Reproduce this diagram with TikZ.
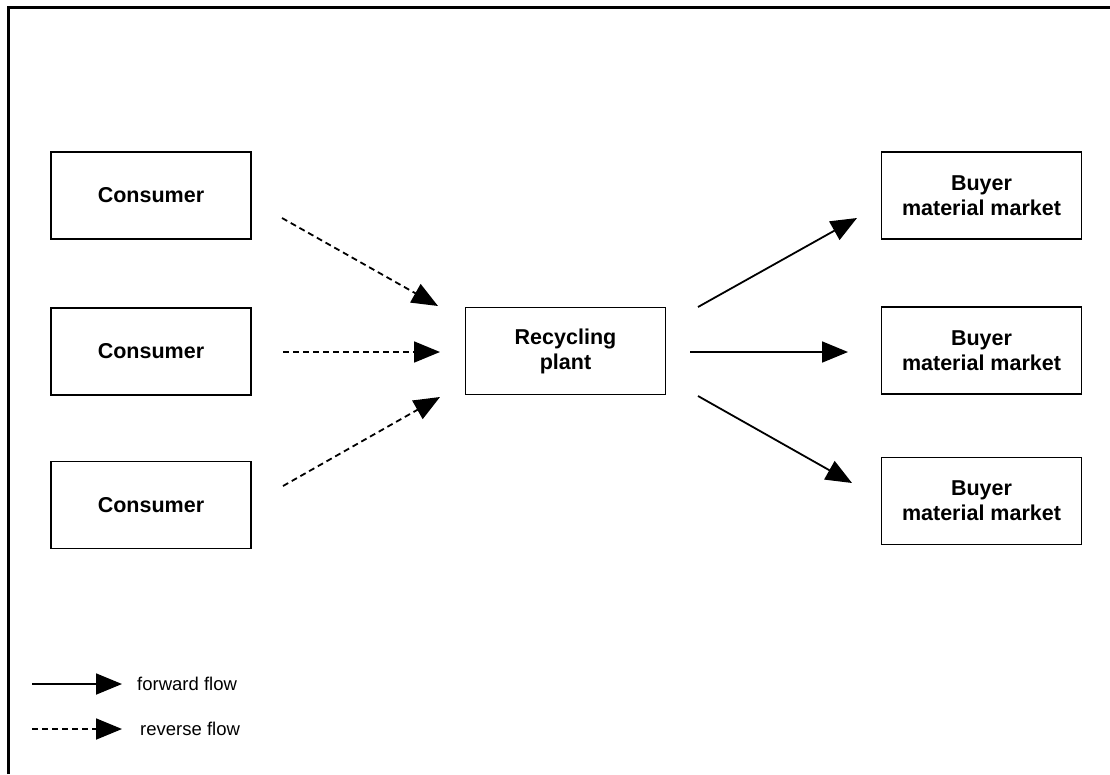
\documentclass[tikz,border=0pt]{standalone}
\usepackage{fontspec}
\setmainfont{Liberation Sans}
\usetikzlibrary{arrows.meta}
\tikzset{
  box/.style={draw, line width=1.5pt, minimum width=200pt, minimum height=87pt,
    align=center, inner sep=0pt, font=\fontsize{21.5}{25}\selectfont\bfseries},
  fwd/.style={line width=1.8pt, -{Triangle[length=26pt,width=21pt]}},
  rev/.style={fwd, dash pattern=on 6pt off 4pt},
  legtext/.style={anchor=west, inner sep=0pt, font=\fontsize{18.5}{22}\selectfont}
}
\begin{document}
\begin{tikzpicture}[x=1pt,y=-1pt]
\useasboundingbox (0,0) rectangle (1110,774);
\draw[line width=3pt] (8.5,774) -- (8.5,7.5) -- (1110,7.5);

\node[box] (c1) at (151,195.5) {Consumer};
\node[box] (c2) at (151,351.5) {Consumer};
\node[box] (c3) at (151,505) {Consumer};
\node[box] (rp) at (565.5,351) {Recycling\\plant};
\node[box] (b1) at (981.5,195.5) {Buyer\\material market};
\node[box] (b2) at (981.5,350.5) {Buyer\\material market};
\node[box] (b3) at (981.5,501) {Buyer\\material market};

\coordinate (r1s) at (282,218);
\coordinate (r1e) at (438,306);
\coordinate (r2s) at (283,352);
\coordinate (r2e) at (440,352);
\coordinate (r3s) at (283,486);
\coordinate (r3e) at (440,397);
\draw[rev] (r1s) -- (r1e);
\draw[rev] (r2s) -- (r2e);
\draw[rev] (r3s) -- (r3e);

\coordinate (f1s) at (698,307);
\coordinate (f1e) at (857,218);
\coordinate (f2s) at (690,352);
\coordinate (f2e) at (848,352);
\coordinate (f3s) at (698,396);
\coordinate (f3e) at (852,483);
\draw[fwd] (f1s) -- (f1e);
\draw[fwd] (f2s) -- (f2e);
\draw[fwd] (f3s) -- (f3e);

\coordinate (lf1) at (32,684);
\coordinate (lf2) at (122,684);
\coordinate (lr1) at (32,729);
\coordinate (lr2) at (122,729);
\draw[fwd] (lf1) -- (lf2);
\draw[rev] (lr1) -- (lr2);
\node[legtext] (lft) at (137,684) {forward flow};
\node[legtext] (lrt) at (140,729) {reverse flow};
\end{tikzpicture}
\end{document}
